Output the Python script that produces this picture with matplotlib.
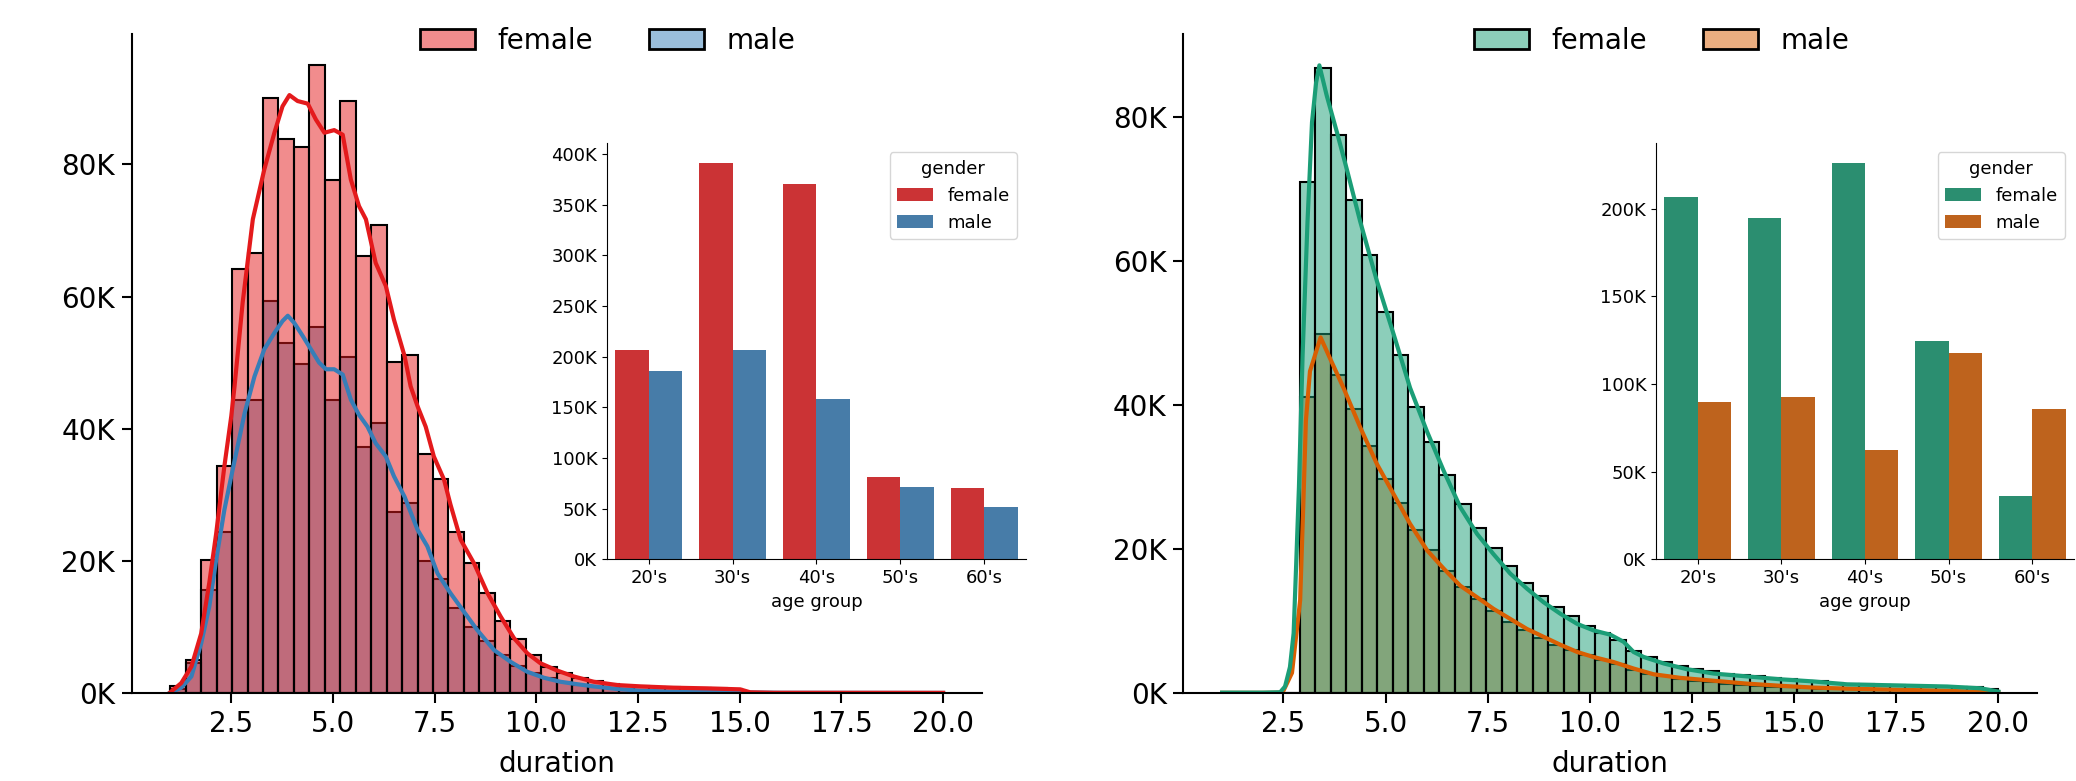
import numpy as np
import pandas as pd
import matplotlib
matplotlib.use('Agg')
import matplotlib.pyplot as plt
import seaborn as sns
from matplotlib.colors import to_rgba
from matplotlib.patches import Patch
from matplotlib.ticker import FuncFormatter, MultipleLocator

# histogram bins (duration)
bin_lo, bin_hi, n_bins = 1.0, 20.0, 50

# left panel counts per bin (thousands)
left_female = [1.1, 5.0, 20.2, 34.3, 64.2, 66.6, 90.0, 83.9, 82.6, 95.0,
               77.7, 89.6, 66.1, 70.8, 50.1, 51.1, 36.1, 32.4, 24.3, 19.6,
               15.1, 10.9, 8.2, 5.8, 4.0, 3.0, 2.3, 1.8, 1.4, 1.1,
               1.0, 0.9, 0.85, 0.8, 0.75, 0.7, 0.65, 0.05, 0.02, 0.02,
               0.02, 0.02, 0.02, 0.02, 0.02, 0.02, 0.02, 0.02, 0.02, 0.02]
left_male = [0.6, 4.5, 15.6, 24.4, 44.3, 44.4, 59.4, 53.0, 49.8, 55.4,
             44.4, 50.8, 37.2, 40.8, 27.4, 28.7, 20.0, 17.2, 12.8, 10.0,
             7.8, 5.7, 4.1, 3.0, 2.2, 1.6, 1.2, 0.9, 0.7, 0.5,
             0.4, 0.3, 0.25, 0.2, 0.15, 0.1, 0.08, 0.05, 0.01, 0.01,
             0.01, 0.01, 0.01, 0.01, 0.01, 0.01, 0.01, 0.01, 0.01, 0.01]

# right panel counts per bin (thousands)
right_female = [0, 0, 0, 0, 0, 71.0, 86.8, 77.5, 68.5, 60.9,
                53.0, 46.9, 39.8, 34.9, 30.3, 26.2, 22.9, 20.2, 17.7, 15.3,
                13.5, 11.9, 10.7, 9.3, 8.3, 7.4, 5.8, 5.0, 4.3, 3.8,
                3.4, 3.0, 2.7, 2.5, 2.3, 2.1, 1.9, 1.7, 1.6, 1.4,
                1.3, 1.2, 1.1, 1.05, 1.0, 0.95, 0.9, 0.85, 0.8, 0.6]
right_male = [0, 0, 0, 0, 0, 41.1, 49.9, 44.2, 39.5, 34.3,
              29.7, 26.4, 22.7, 19.8, 17.0, 14.7, 13.0, 11.4, 9.9, 8.7,
              7.7, 6.6, 6.0, 5.3, 4.6, 4.0, 3.2, 2.7, 2.3, 2.0,
              1.7, 1.5, 1.3, 1.15, 1.0, 0.9, 0.8, 0.7, 0.6, 0.55,
              0.5, 0.45, 0.4, 0.35, 0.3, 0.28, 0.25, 0.22, 0.2, 0.15]

# kde curves (x = duration, y = thousands)
kde_lf_x = [1.0, 1.27, 1.52, 1.76, 1.96, 2.13, 2.33, 2.50, 2.58, 2.78, 3.03, 3.31, 3.56,
            3.76, 3.93, 4.13, 4.38, 4.58, 4.79, 5.03, 5.24, 5.44, 5.64, 5.81, 6.05, 6.30,
            6.50, 6.76, 6.91, 7.08, 7.28, 7.48, 7.73, 7.89, 8.14, 8.47, 8.80, 9.12, 9.45,
            9.78, 10.10, 10.51, 10.92, 11.41, 11.99, 12.56, 13.37, 14.19, 15.01, 15.26,
            15.83, 20.0]
kde_lf_y = [0.1, 1.5, 4.0, 9.0, 16.7, 24.2, 34.3, 41.9, 46.4, 59.1, 71.7, 79.2, 84.8,
            88.8, 90.5, 89.6, 89.2, 86.8, 84.8, 85.2, 84.5, 77.7, 73.7, 71.7, 65.1, 61.6,
            56.5, 51.0, 46.4, 43.4, 40.3, 35.8, 32.3, 28.5, 23.2, 19.6, 15.1, 11.6, 8.3,
            6.0, 4.5, 3.4, 2.5, 1.7, 1.2, 1.0, 0.8, 0.7, 0.55, 0.1,
            0.03, 0.02]
kde_lm_x = [1.0, 1.27, 1.52, 1.76, 1.96, 2.13, 2.33, 2.50, 2.62, 2.83, 3.07, 3.31, 3.56,
            3.76, 3.89, 4.05, 4.26, 4.46, 4.66, 4.83, 5.03, 5.24, 5.44, 5.64, 5.85, 6.05,
            6.30, 6.50, 6.76, 7.08, 7.32, 7.57, 7.89, 8.22, 8.55, 8.96, 9.37, 9.78, 10.19,
            10.59, 10.92, 11.41, 11.99, 12.56, 13.37, 14.19, 15.0, 16.0, 20.0]
kde_lm_y = [0.05, 0.8, 2.5, 7.5, 13.1, 20.2, 27.7, 32.8, 36.3, 42.4, 47.9, 52.0, 54.5,
            56.3, 57.1, 56.0, 54.0, 52.0, 50.0, 49.0, 49.0, 48.2, 44.4, 42.1, 40.3, 37.8,
            35.8, 32.8, 29.7, 24.7, 22.2, 18.1, 15.1, 12.3, 9.5, 6.5, 4.7, 3.2, 2.3,
            1.7, 1.4, 1.0, 0.6, 0.35, 0.2, 0.15, 0.1, 0.03, 0.01]
kde_rf_x = [1.0, 1.5, 2.0, 2.42, 2.54, 2.66, 2.75, 2.81, 2.88, 2.97, 3.09, 3.20, 3.30,
            3.38, 3.56, 3.81, 4.05, 4.38, 4.79, 5.20, 5.60, 6.01, 6.42, 6.83, 7.24, 7.64,
            8.05, 8.46, 8.87, 9.28, 9.69, 10.09, 10.50, 10.83, 11.07, 11.32, 11.81, 12.38,
            13.03, 13.85, 14.67, 15.48, 16.30, 17.12, 17.93, 18.75, 19.57, 20.0]
kde_rf_y = [0.05, 0.05, 0.05, 0.1, 0.9, 3.6, 8.3, 17.5, 28.6, 47.0, 65.5, 79.3, 84.8,
            87.2, 83.0, 77.9, 72.8, 65.5, 57.2, 49.8, 42.4, 36.4, 30.9, 25.8, 22.1, 19.3,
            16.6, 14.5, 12.6, 11.0, 9.6, 8.7, 8.1, 7.1, 5.7, 5.0, 4.1, 3.3,
            2.7, 2.3, 1.9, 1.6, 1.2, 1.1, 1.0, 0.9, 0.65, 0.2]
kde_rm_x = [1.0, 2.0, 2.42, 2.5, 2.71, 2.91, 2.99, 3.05, 3.15, 3.41, 3.64, 3.97, 4.38,
            4.79, 5.20, 5.60, 6.02, 6.42, 6.83, 7.24, 7.64, 8.05, 8.46, 8.87, 9.28, 9.69,
            10.09, 10.58, 11.07, 11.56, 12.22, 13.03, 13.85, 14.67, 15.48, 16.30, 17.12,
            17.93, 18.75, 19.57, 20.0]
kde_rm_y = [0.02, 0.02, 0.05, 0.3, 2.8, 12.9, 26.7, 37.8, 44.7, 49.4, 46.5, 42.4, 36.9,
            31.8, 27.6, 23.5, 19.8, 17.3, 14.9, 13.3, 11.7, 10.3, 8.9, 7.8, 6.7, 5.7,
            5.0, 4.3, 3.4, 2.6, 2.1, 1.7, 1.3, 1.0, 0.75, 0.6, 0.5,
            0.4, 0.3, 0.15, 0.05]

# inset counts by age group (thousands)
age_groups = ["20's", "30's", "40's", "50's", "60's"]
inset_left_female = [206.7, 391.1, 370.7, 81.0, 70.7]
inset_left_male = [185.7, 206.7, 158.6, 71.7, 51.3]
inset_right_female = [206.8, 194.5, 225.9, 124.7, 36.1]
inset_right_male = [89.7, 92.6, 62.2, 117.5, 85.6]

genders = ['female', 'male']
kfmt = FuncFormatter(lambda v, p: f'{v / 1000:.0f}K')
edges = np.linspace(bin_lo, bin_hi, n_bins + 1)


def main_panel(ax, fem, mal, kfx, kfy, kmx, kmy, colors):
    c_f, c_m = colors
    w = np.diff(edges)
    # male drawn first, female layered on top
    ax.bar(edges[:-1], np.array(mal) * 1000, width=w, align='edge',
           facecolor=to_rgba(c_m, 0.5), edgecolor='black', linewidth=1.5)
    ax.bar(edges[:-1], np.array(fem) * 1000, width=w, align='edge',
           facecolor=to_rgba(c_f, 0.5), edgecolor='black', linewidth=1.5)
    ax.plot(kmx, np.array(kmy) * 1000, color=c_m, lw=3)
    ax.plot(kfx, np.array(kfy) * 1000, color=c_f, lw=3)
    ax.yaxis.set_major_formatter(kfmt)
    ax.set_xticks([2.5, 5.0, 7.5, 10.0, 12.5, 15.0, 17.5, 20.0])
    ax.set_xlabel('duration', fontsize=20, labelpad=9)
    ax.tick_params(labelsize=20, length=7, width=1.5, pad=5)
    for s in ['top', 'right']:
        ax.spines[s].set_visible(False)
    for s in ['left', 'bottom']:
        ax.spines[s].set_linewidth(1.5)
    handles = [Patch(facecolor=to_rgba(c_f, 0.5), edgecolor='black', linewidth=2),
               Patch(facecolor=to_rgba(c_m, 0.5), edgecolor='black', linewidth=2)]
    ax.legend(handles, genders, loc='center', bbox_to_anchor=(0.56, 0.99),
              ncol=2, frameon=False, fontsize=20)


def inset_panel(ax, fem, mal, palette):
    df = pd.DataFrame({
        'age group': age_groups * 2,
        'count': [v * 1000 for v in fem + mal],
        'gender': ['female'] * len(fem) + ['male'] * len(mal),
    })
    sns.barplot(data=df, x='age group', y='count', hue='gender',
                palette=palette, ax=ax)
    ax.set_ylabel('')
    ax.set_xlabel('age group', fontsize=13)
    ax.yaxis.set_major_locator(MultipleLocator(50000))
    ax.yaxis.set_major_formatter(kfmt)
    ax.tick_params(labelsize=13)
    for s in ['top', 'right']:
        ax.spines[s].set_visible(False)
    ax.legend(title='gender', loc='upper right', fontsize=13, title_fontsize=13)


fig = plt.figure(figsize=(20.76, 7.81), dpi=100)
ax1 = fig.add_axes([0.0634, 0.1127, 0.4095, 0.8438])
ax2 = fig.add_axes([0.5700, 0.1127, 0.4113, 0.8438])
in1 = fig.add_axes([0.2924, 0.2839, 0.2018, 0.5326])
in2 = fig.add_axes([0.7977, 0.2839, 0.2013, 0.5326])

set1 = sns.color_palette('Set1')
dark2 = sns.color_palette('Dark2')

main_panel(ax1, left_female, left_male, kde_lf_x, kde_lf_y, kde_lm_x, kde_lm_y,
           (set1[0], set1[1]))
main_panel(ax2, right_female, right_male, kde_rf_x, kde_rf_y, kde_rm_x, kde_rm_y,
           (dark2[0], dark2[1]))
inset_panel(in1, inset_left_female, inset_left_male, 'Set1')
inset_panel(in2, inset_right_female, inset_right_male, 'Dark2')

fig.savefig('out.png', dpi=100)
